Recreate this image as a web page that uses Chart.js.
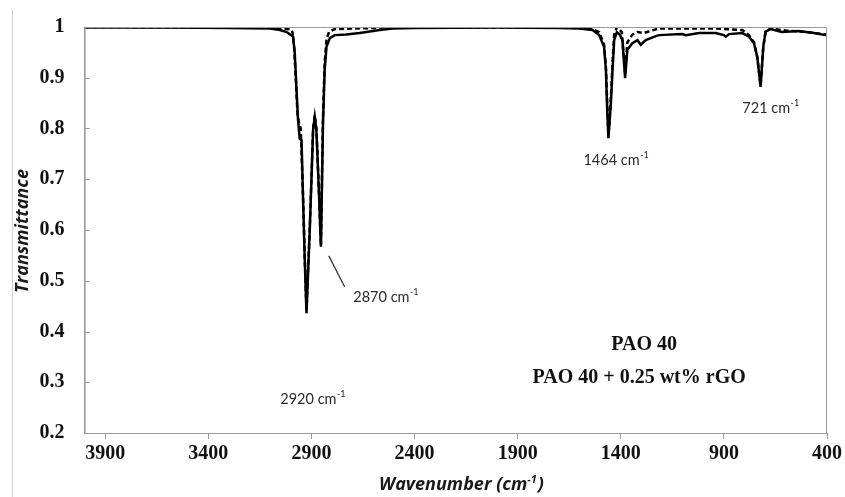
<!DOCTYPE html>
<html lang="en">
<head>
  <meta charset="UTF-8">
  <title>FTIR PAO 40</title>
  <script src="https://cdn.jsdelivr.net/npm/chart.js"></script>
  <style>
    body {
      margin: 0;
      background: #fff;
    }
    canvas {
      display: block;
    }
  </style>
</head>
<body>
  <canvas id="ftirChart" width="845" height="497"></canvas>

<script>
// Data
const seriesNames = ['PAO 40', 'PAO 40 + 0.25 wt% rGO'];

const wnPao = [4000, 3600, 3300, 3100, 3053, 3020, 2989, 2981, 2973, 2965, 2957, 2948, 2941, 2932, 2924,
  2916, 2908, 2892, 2884, 2876, 2863, 2854, 2849, 2844, 2836, 2827, 2811, 2787, 2731, 2666, 2569, 2507,
  2400, 2000, 1700, 1602, 1537, 1505, 1481, 1472, 1467, 1460, 1453, 1448, 1440, 1432, 1419, 1405, 1392,
  1379, 1368, 1344, 1319, 1303, 1279, 1230, 1214, 1102, 1085, 1020, 940, 900, 891, 875, 811, 778, 754,
  738, 722, 709, 698, 674, 619, 537, 464, 407, 400];
const tPao = [0.999, 0.999, 0.998, 0.997, 0.994, 0.99, 0.981, 0.949, 0.882, 0.817, 0.78, 0.777, 0.666, 0.535, 0.436,
  0.52, 0.602, 0.797, 0.823, 0.797, 0.666, 0.567, 0.69, 0.81, 0.915, 0.961, 0.978, 0.984, 0.985, 0.988, 0.994, 0.997,
  0.998, 0.999, 0.998, 0.997, 0.994, 0.984, 0.961, 0.915, 0.85, 0.781, 0.82, 0.85, 0.915, 0.974, 0.99, 0.985, 0.974,
  0.899, 0.955, 0.968, 0.974, 0.965, 0.974, 0.982, 0.984, 0.986, 0.984, 0.988, 0.988, 0.984, 0.981, 0.986, 0.988, 0.981, 0.968,
  0.941, 0.882, 0.961, 0.991, 0.996, 0.99, 0.992, 0.988, 0.984, 0.984];

const wnRgo = [4000, 3100, 3053, 3000, 2992, 2984, 2976, 2968, 2960, 2952, 2941, 2932, 2924, 2916, 2908,
  2892, 2884, 2876, 2863, 2854, 2849, 2844, 2836, 2827, 2815, 2787, 2700, 2500, 1700, 1600, 1537, 1505,
  1481, 1472, 1460, 1448, 1440, 1432, 1419, 1395, 1379, 1368, 1344, 1319, 1290, 1250, 1214, 1102, 940,
  811, 778, 754, 738, 722, 709, 698, 674, 600, 500, 400];
const tRgo = [1.0, 0.999, 0.998, 0.995, 0.99, 0.96, 0.9, 0.83, 0.81, 0.8, 0.67, 0.54, 0.44, 0.525, 0.605,
  0.8, 0.826, 0.8, 0.67, 0.57, 0.7, 0.82, 0.93, 0.975, 0.99, 0.996, 0.997, 0.999, 0.999, 0.998, 0.996, 0.99,
  0.965, 0.92, 0.785, 0.86, 0.93, 0.985, 1.0, 0.99, 0.91, 0.97, 0.985, 0.99, 0.988, 0.993, 0.997, 0.997, 0.997,
  0.994, 0.984, 0.97, 0.94, 0.885, 0.96, 0.99, 0.997, 0.993, 0.99, 0.985];

const xTicks = [3900, 3400, 2900, 2400, 1900, 1400, 900, 400];
const yTicks = [1, 0.9, 0.8, 0.7, 0.6, 0.5, 0.4, 0.3, 0.2];

// Peak labels: [wavenumber text, anchor wn, anchor T]
const peakLabels = [
  ['2920', 2894, 0.267],
  ['2870', 2540, 0.468],
  ['1464', 1424, 0.738],
  ['721', 674, 0.840]
];

const toPoints = (xs, ys) => xs.map((x, i) => ({ x: x, y: ys[i] }));

const serifBold = 'bold 20px "Liberation Serif", "Times New Roman", serif';
const titleFont = 'italic bold 18px "Open Sans", Lato, sans-serif';
const supFont = 'italic bold 11px "Open Sans", Lato, sans-serif';
const labelFont = '14.5px Lato, "Open Sans", sans-serif';
const labelSup = '9px Lato, "Open Sans", sans-serif';

// Extra drawing: inside y ticks, frame, titles, labels and legend text
const decorations = {
  id: 'decorations',
  afterDraw(chart) {
    const ctx = chart.ctx;
    const area = chart.chartArea;
    const xs = chart.scales.x;
    const ys = chart.scales.y;
    ctx.save();

    // outer figure edge on the left
    ctx.strokeStyle = '#d0d0d0';
    ctx.lineWidth = 1;
    ctx.beginPath();
    ctx.moveTo(12.5, 10);
    ctx.lineTo(12.5, 497);
    ctx.stroke();

    // plot frame
    ctx.strokeStyle = '#9a9a9a';
    ctx.lineWidth = 1;
    ctx.strokeRect(area.left + 0.5, area.top + 0.5, area.right - area.left - 1, area.bottom - area.top);

    // y ticks pointing into the plot
    yTicks.forEach(v => {
      const py = Math.round(ys.getPixelForValue(v)) + 0.5;
      ctx.beginPath();
      ctx.moveTo(area.left, py);
      ctx.lineTo(area.left + 5, py);
      ctx.stroke();
    });

    // axis titles
    ctx.fillStyle = '#1a1a1a';
    ctx.font = titleFont;
    ctx.textAlign = 'center';
    ctx.textBaseline = 'middle';
    ctx.save();
    ctx.translate(23, 231);
    ctx.rotate(-Math.PI / 2);
    ctx.fillText('Transmittance', 0, 0);
    ctx.restore();

    const xTitle = 'Wavenumber (cm';
    ctx.font = titleFont;
    const w1 = ctx.measureText(xTitle).width;
    ctx.font = supFont;
    const w2 = ctx.measureText('-1').width;
    ctx.font = titleFont;
    const w3 = ctx.measureText(')').width;
    const tx = 461 - (w1 + w2 + w3) / 2;
    ctx.textAlign = 'left';
    ctx.fillText(xTitle, tx, 485);
    ctx.font = supFont;
    ctx.fillText('-1', tx + w1, 480);
    ctx.font = titleFont;
    ctx.fillText(')', tx + w1 + w2 + 1, 485);

    // peak labels
    ctx.fillStyle = '#2a2a2a';
    peakLabels.forEach(([txt, wn, t]) => {
      const cx = xs.getPixelForValue(wn);
      const cy = ys.getPixelForValue(t);
      ctx.font = labelFont;
      const main = txt + ' cm';
      const mw = ctx.measureText(main).width;
      ctx.font = labelSup;
      const sw = ctx.measureText('-1').width;
      const sx = cx - (mw + sw) / 2;
      ctx.font = labelFont;
      ctx.fillText(main, sx, cy);
      ctx.font = labelSup;
      ctx.fillText('-1', sx + mw + 0.5, cy - 5);
    });

    // leader line for 2870
    ctx.strokeStyle = '#2a2a2a';
    ctx.lineWidth = 1.2;
    ctx.beginPath();
    ctx.moveTo(xs.getPixelForValue(2816), ys.getPixelForValue(0.549));
    ctx.lineTo(xs.getPixelForValue(2739), ys.getPixelForValue(0.488));
    ctx.stroke();

    // legend text
    ctx.fillStyle = '#111';
    ctx.font = serifBold;
    ctx.textAlign = 'center';
    ctx.fillText(seriesNames[0], xs.getPixelForValue(1287), ys.getPixelForValue(0.373));
    ctx.fillText(seriesNames[1], xs.getPixelForValue(1311), ys.getPixelForValue(0.308));

    ctx.restore();
  }
};

new Chart(document.getElementById('ftirChart'), {
  type: 'line',
  data: {
    datasets: [{
      label: seriesNames[0],
      data: toPoints(wnPao, tPao),
      borderColor: '#000',
      borderWidth: 2.5,
      pointRadius: 0,
      tension: 0
    }, {
      label: seriesNames[1],
      data: toPoints(wnRgo, tRgo),
      borderColor: '#000',
      borderWidth: 2.5,
      borderDash: [5, 3],
      pointRadius: 0,
      tension: 0
    }]
  },
  options: {
    responsive: false,
    animation: false,
    layout: {
      padding: { left: 0, right: 16.7, top: 27, bottom: 0 }
    },
    plugins: {
      legend: { display: false },
      tooltip: { enabled: false }
    },
    scales: {
      x: {
        type: 'linear',
        min: 400,
        max: 4000,
        reverse: true,
        afterBuildTicks: scale => { scale.ticks = xTicks.map(v => ({ value: v })); },
        afterFit: scale => { scale.height = 64; },
        grid: {
          drawOnChartArea: false,
          color: '#9a9a9a',
          tickLength: 6
        },
        border: { color: '#9a9a9a' },
        ticks: {
          color: '#111',
          font: { family: '"Liberation Serif", "Times New Roman", serif', size: 20, weight: 'bold' },
          padding: 3,
          maxRotation: 0,
          autoSkip: false,
          callback: v => String(v)
        }
      },
      y: {
        min: 0.2,
        max: 1,
        afterBuildTicks: scale => { scale.ticks = yTicks.map(v => ({ value: v })); },
        afterFit: scale => { scale.width = 84.6; },
        grid: { display: false },
        border: { color: '#9a9a9a' },
        ticks: {
          color: '#111',
          font: { family: '"Liberation Serif", "Times New Roman", serif', size: 20, weight: 'bold' },
          padding: 12,
          callback: v => String(+v.toFixed(1))
        }
      }
    }
  },
  plugins: [decorations]
});
</script>
</body>
</html>
